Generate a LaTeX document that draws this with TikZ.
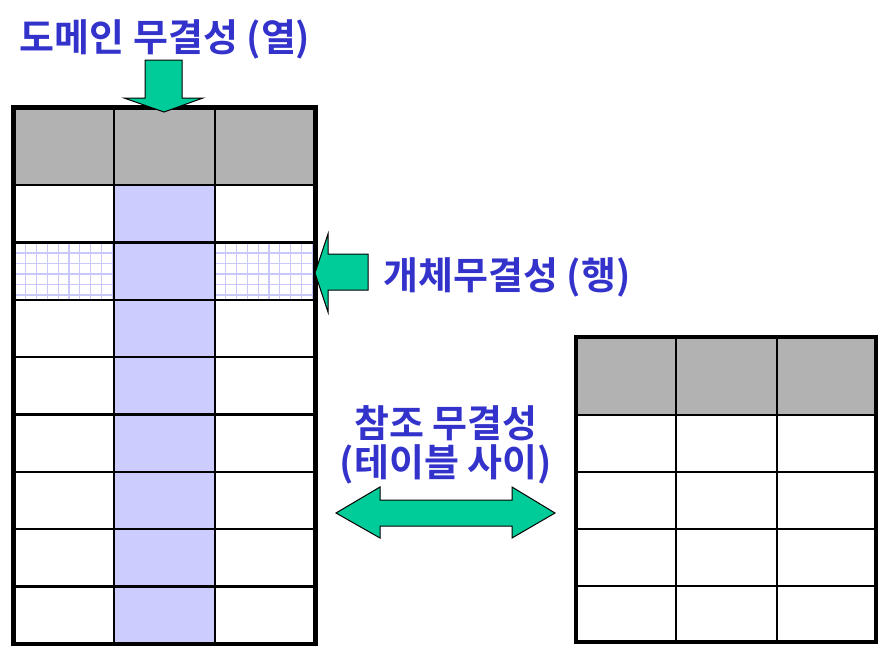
\documentclass[tikz,border=0pt]{standalone}
\usepackage{fontspec}
\newfontfamily\kr{Noto Sans CJK KR Bold}
\begin{document}
\begin{tikzpicture}[x=1pt,y=-1pt]
\definecolor{hdr}{HTML}{B2B2B2}
\definecolor{colb}{HTML}{CCCCFF}
\definecolor{gridc}{HTML}{C8C8FA}
\definecolor{arr}{HTML}{00CC99}
\definecolor{txt}{HTML}{3333CC}
\tikzset{
  thin grid/.style={line width=2.3pt, black},
  outer/.style={line width=4.5pt, black},
  blockarrow/.style={fill=arr, draw=black, line width=1pt, line join=miter},
  label/.style={font=\kr\fontsize{38}{42}\selectfont, text=txt, inner sep=0pt},
}
\useasboundingbox (0,0) rectangle (886,654);
% ---------- left table ----------
\fill[hdr] (13.5,107.5) rectangle (315.5,185);
\fill[colb] (114.3,185) rectangle (215,644);
% grid pattern cells in row 2
\foreach \xa/\xb in {15/114, 215/314}{
  \foreach \i in {1,...,9}{
    \draw[gridc, line width=1.3pt] ({\xa+\i*10.8},242.4) -- ({\xa+\i*10.8},299.8);
  }
  \foreach \j in {1,...,5}{
    \draw[gridc, line width=1.3pt] (\xa,{242.4+\j*10.5}) -- (\xb,{242.4+\j*10.5});
  }
}
\foreach \yy in {185,242.4,299.8,357.1,414.5,471.9,529.3,586.6}{
  \draw[thin grid] (13.5,\yy) -- (315.5,\yy);
}
\draw[thin grid] (114.3,107.5) -- (114.3,644);
\draw[thin grid] (215,107.5) -- (215,644);
\draw[outer] (13.5,107.5) rectangle (315.5,644);
% ---------- right table ----------
\fill[hdr] (576,337) rectangle (876,415);
\foreach \yy in {415,471.7,529,586}{
  \draw[thin grid] (576,\yy) -- (876,\yy);
}
\draw[thin grid] (676,337) -- (676,642);
\draw[thin grid] (777,337) -- (777,642);
\draw[outer] (576,337) rectangle (876,642);
% ---------- arrows ----------
\draw[blockarrow] (145,60) -- (182,60) -- (182,98) -- (203,98) -- (164,112) -- (124,98) -- (145,98) -- cycle;
\draw[blockarrow] (368,254) -- (368,290) -- (328,290) -- (328,312) -- (315,273) -- (328,234) -- (328,254) -- cycle;
\draw[blockarrow] (336,513) -- (380,487) -- (380,500) -- (512,500) -- (512,487) -- (555,513) -- (512,538) -- (512,526) -- (380,526) -- (380,538) -- cycle;
% ---------- labels ----------
\node[label] (dom) at (165,39) {도메인 무결성 (열)};
\node[label] (ent) at (507,277) {개체무결성 (행)};
\node[label] (ref1) at (446,423) {참조 무결성};
\node[label] (ref2) at (446,464) {(테이블 사이)};
\end{tikzpicture}
\end{document}
